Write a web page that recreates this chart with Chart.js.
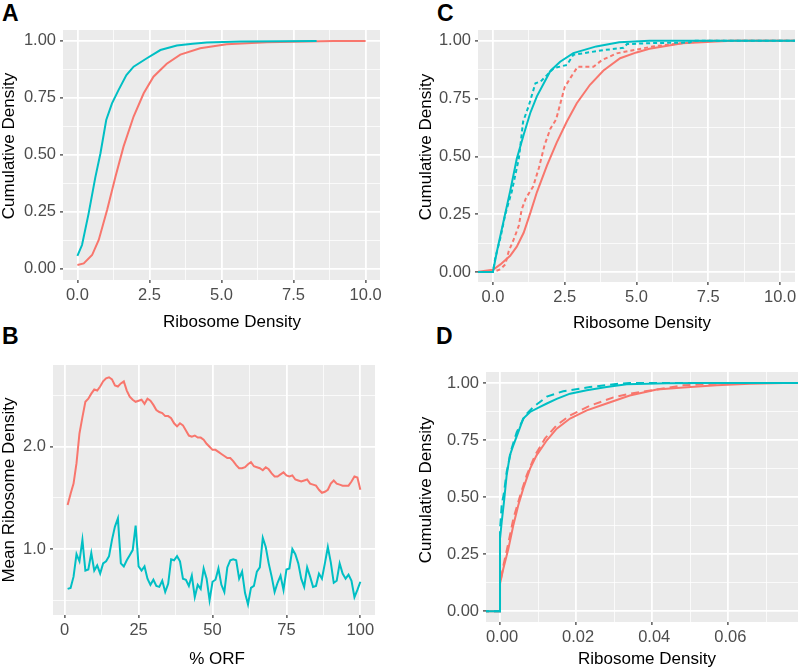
<!DOCTYPE html>
<html>
<head>
<meta charset="utf-8">
<script src="https://cdn.jsdelivr.net/npm/chart.js@4"></script>
<style>
  html, body { margin: 0; padding: 0; background: #fff; width: 800px; height: 669px; overflow: hidden; }
  .panel { position: absolute; }
  .lab { position: absolute; font-family: "Liberation Sans", Arial, sans-serif; font-weight: bold; font-size: 23px; line-height: 23px; color: #000; }
  .ttl { position: absolute; font-family: "Liberation Sans", Arial, sans-serif; font-size: 17px; line-height: 17px; color: #000; white-space: nowrap; transform: translate(-50%, -50%); }
  .ttl.rot { transform: translate(-50%, -50%) rotate(-90deg); }
</style>
</head>
<body>
<div class="lab" style="left:2px;top:2px">A</div>
<div class="lab" style="left:437px;top:2px">C</div>
<div class="lab" style="left:2px;top:325px">B</div>
<div class="lab" style="left:436px;top:325px">D</div>

<canvas id="chartA" class="panel" width="400" height="330" style="left:0;top:0"></canvas>
<canvas id="chartB" class="panel" width="400" height="339" style="left:0;top:330px"></canvas>
<canvas id="chartC" class="panel" width="420" height="330" style="left:400px;top:0"></canvas>
<canvas id="chartD" class="panel" width="420" height="339" style="left:400px;top:330px"></canvas>

<div class="ttl" style="left:232px;top:321px">Ribosome Density</div>
<div class="ttl rot" style="left:8px;top:146px">Cumulative Density</div>
<div class="ttl" style="left:217px;top:658px">% ORF</div>
<div class="ttl rot" style="left:8px;top:490px">Mean Ribosome Density</div>
<div class="ttl" style="left:642px;top:322px">Ribosome Density</div>
<div class="ttl rot" style="left:425px;top:147px">Cumulative Density</div>
<div class="ttl" style="left:647px;top:658px">Ribosome Density</div>
<div class="ttl rot" style="left:425px;top:490px">Cumulative Density</div>

<script>
const RED = '#F8766D';
const TEAL = '#00BFC4';
const FONT = '"Liberation Sans", Arial, sans-serif';

// tick values and labels
const cdfTicks = [0, 0.25, 0.5, 0.75, 1];
const cdfLabels = ['0.00', '0.25', '0.50', '0.75', '1.00'];
const densTicks = [0, 2.5, 5, 7.5, 10];
const densLabels = ['0.0', '2.5', '5.0', '7.5', '10.0'];
const orfTicks = [0, 25, 50, 75, 100];
const orfLabels = ['0', '25', '50', '75', '100'];
const meanTicks = [1, 2];
const meanLabels = ['1.0', '2.0'];
const smallTicks = [0, 0.02, 0.04, 0.06];
const smallLabels = ['0.00', '0.02', '0.04', '0.06'];

// A: cumulative density
const aTealX = [0, 0.16, 0.39, 0.62, 0.8, 1.0, 1.2, 1.43, 1.7, 1.95, 2.41, 2.88, 3.45, 4.0, 4.49, 5.65, 7.0, 8.3];
const aTealY = [0.056, 0.104, 0.243, 0.40, 0.507, 0.653, 0.726, 0.785, 0.85, 0.887, 0.924, 0.96, 0.98, 0.988, 0.993, 0.997, 0.999, 1.0];
const aRedX = [0, 0.22, 0.51, 0.74, 1.03, 1.32, 1.6, 1.95, 2.3, 2.64, 3.1, 3.57, 4.26, 5.18, 6.57, 8.88, 10];
const aRedY = [0.016, 0.023, 0.06, 0.126, 0.258, 0.404, 0.536, 0.668, 0.77, 0.843, 0.90, 0.94, 0.968, 0.985, 0.994, 1.0, 1.0];

// B: mean density along the ORF
const orfPos = [1,2,3,4,5,6,7,8,9,10,11,12,13,14,15,16,17,18,19,20,21,22,23,24,25,26,27,28,29,30,31,32,33,34,35,36,37,38,39,40,41,42,43,44,45,46,47,48,49,50,
  51,52,53,54,55,56,57,58,59,60,61,62,63,64,65,66,67,68,69,70,71,72,73,74,75,76,77,78,79,80,81,82,83,84,85,86,87,88,89,90,91,92,93,94,95,96,97,98,99,100];
const bRed = [1.43,1.54,1.64,1.84,2.13,2.29,2.44,2.47,2.52,2.56, 2.55,2.59,2.64,2.67,2.68,2.66,2.60,2.59,2.62,2.64,
  2.55,2.49,2.46,2.44,2.45,2.46,2.42,2.47,2.45,2.41, 2.36,2.34,2.33,2.30,2.30,2.28,2.23,2.20,2.23,2.21,
  2.16,2.11,2.10,2.11,2.09,2.09,2.07,2.03,2.00,1.97, 1.97,1.95,1.93,1.91,1.89,1.89,1.86,1.82,1.79,1.79,
  1.80,1.83,1.85,1.81,1.80,1.79,1.77,1.80,1.78,1.74, 1.71,1.71,1.73,1.75,1.72,1.71,1.72,1.68,1.67,1.66,
  1.67,1.68,1.64,1.63,1.62,1.58,1.55,1.56,1.58,1.64, 1.67,1.64,1.63,1.62,1.62,1.62,1.66,1.71,1.70,1.58];
const bTeal = [0.61,0.62,0.73,0.95,0.88,1.09,0.79,0.80,0.96,0.79, 0.84,0.76,0.86,0.88,0.93,1.09,1.22,1.30,0.86,0.83,
  0.89,0.94,0.99,1.23,0.83,0.79,0.83,0.71,0.65,0.70, 0.64,0.63,0.69,0.58,0.66,0.90,0.89,0.93,0.88,0.71,
  0.70,0.64,0.74,0.53,0.65,0.61,0.81,0.71,0.50,0.68, 0.70,0.81,0.65,0.58,0.82,0.89,0.90,0.89,0.71,0.78,
  0.57,0.46,0.62,0.64,0.78,0.82,1.11,1.02,0.86,0.73, 0.58,0.67,0.74,0.60,0.80,0.81,1.00,0.95,0.86,0.71,
  0.63,0.82,0.73,0.63,0.64,0.76,0.71,0.86,1.02,0.87, 0.67,0.69,0.86,0.76,0.71,0.75,0.69,0.53,0.60,0.68];

// C: cumulative density, solid and dashed
const cTealX = [-0.6, 0, 0.14, 0.37, 0.6, 0.83, 1.07, 1.3, 1.53, 2.0, 2.34, 2.8, 3.6, 4.4, 5.45, 11];
const cTealY = [0, 0, 0.09, 0.22, 0.35, 0.49, 0.594, 0.688, 0.76, 0.87, 0.91, 0.947, 0.976, 0.994, 1.0, 1.0];
const cTealDashX = [-0.6, 0, 0.08, 0.26, 0.43, 0.66, 0.9, 0.95, 1.05, 1.25, 1.48, 1.66, 1.89, 2.12, 2.58, 2.8, 3.85, 4.55, 4.67, 5.45, 6.85, 6.97, 11];
const cTealDashY = [0, 0, 0.06, 0.148, 0.25, 0.35, 0.49, 0.54, 0.65, 0.72, 0.817, 0.824, 0.853, 0.882, 0.896, 0.94, 0.96, 0.97, 0.986, 0.99, 0.993, 1.0, 1.0];
const cRedX = [-0.6, 0, 0.26, 0.6, 0.83, 1.07, 1.3, 1.53, 1.88, 2.22, 2.57, 2.92, 3.38, 3.85, 4.43, 5.0, 5.45, 6.6, 7.77, 8.35, 11];
const cRedY = [0, 0.01, 0.033, 0.07, 0.11, 0.17, 0.255, 0.345, 0.46, 0.56, 0.65, 0.73, 0.81, 0.872, 0.925, 0.95, 0.966, 0.99, 0.997, 1.0, 1.0];
const cRedDashX = [-0.6, 0, 0.26, 0.43, 0.55, 0.72, 0.9, 1.0, 1.15, 1.4, 1.6, 1.8, 2.0, 2.2, 2.35, 2.5, 2.7, 2.95, 3.5, 3.8, 4.31, 5.24, 5.57, 6.6, 7.42, 11];
const cRedDashY = [0, 0, 0.012, 0.033, 0.09, 0.14, 0.2, 0.27, 0.32, 0.37, 0.45, 0.55, 0.62, 0.66, 0.73, 0.8, 0.84, 0.888, 0.888, 0.917, 0.946, 0.968, 0.976, 0.99, 1.0, 1.0];

// D: cumulative density on a small scale
const dTealX = [-0.005, 0, 0, 0.00044, 0.00105, 0.00175, 0.0026, 0.0035, 0.0048, 0.0061, 0.0079, 0.0105, 0.0123, 0.0149, 0.0184, 0.0228, 0.028, 0.0333, 0.0438, 0.0526, 0.08];
const dTealY = [0, 0, 0.318, 0.39, 0.48, 0.596, 0.683, 0.727, 0.785, 0.844, 0.873, 0.895, 0.91, 0.93, 0.953, 0.968, 0.982, 0.994, 0.999, 1.0, 1.0];
const dTealDashX = [-0.005, 0, 0, 0.00044, 0.00105, 0.00175, 0.003, 0.0044, 0.0066, 0.0088, 0.0123, 0.0166, 0.0236, 0.0315, 0.034, 0.08];
const dTealDashY = [0, 0, 0.36, 0.464, 0.52, 0.61, 0.71, 0.785, 0.858, 0.895, 0.94, 0.964, 0.982, 0.997, 1.0, 1.0];
const dRedX = [-0.005, 0, 0, 0.00088, 0.0022, 0.0035, 0.0048, 0.0061, 0.0079, 0.0096, 0.0123, 0.0149, 0.0184, 0.0228, 0.028, 0.0341, 0.0412, 0.0482, 0.0569, 0.0657, 0.0745, 0.08];
const dRedY = [0, 0, 0.12, 0.187, 0.274, 0.377, 0.464, 0.537, 0.625, 0.683, 0.749, 0.80, 0.844, 0.88, 0.91, 0.945, 0.971, 0.98, 0.99, 0.997, 1.0, 1.0];
const dRedDashX = [-0.005, 0, 0, 0.00088, 0.0022, 0.0035, 0.0053, 0.007, 0.0092, 0.0118, 0.0149, 0.0184, 0.0236, 0.0298, 0.0342, 0.0482, 0.0569, 0.0657, 0.08];
const dRedDashY = [0, 0, 0.12, 0.20, 0.30, 0.405, 0.507, 0.595, 0.683, 0.756, 0.815, 0.858, 0.90, 0.937, 0.953, 0.99, 0.997, 1.0, 1.0];

function pts(xs, ys) {
    return xs.map((x, i) => ({ x: x, y: ys[i] }));
}

function line(xs, ys, color, dash) {
    return {
        data: pts(xs, ys),
        borderColor: color,
        borderWidth: 2,
        borderDash: dash || [],
        pointRadius: 0,
        tension: 0,
        fill: false
    };
}

// major ticks + ggplot-style minor lines halfway between them
function axis(majors, labels, min, max, size, horizontal, labelOffset) {
    const step = majors[1] - majors[0];
    const grid = [];
    for (let k = -4; k <= majors.length * 2 + 4; k++) {
        const v = majors[0] + k * step / 2;
        if (v >= min - 1e-9 && v <= max + 1e-9) grid.push(v);
    }
    const majorIndex = v => majors.findIndex(m => Math.abs(m - v) < step * 1e-3);
    const isMajor = c => c.tick && majorIndex(c.tick.value) >= 0;
    return {
        type: 'linear',
        min: min,
        max: max,
        afterBuildTicks: s => { s.ticks = grid.map(v => ({ value: v })); },
        afterFit: s => { if (horizontal) s.height = size; else s.width = size; },
        ticks: {
            autoSkip: false,
            maxRotation: 0,
            padding: horizontal ? 3 : 4,
            labelOffset: labelOffset || 0,
            color: '#4D4D4D',
            font: { family: FONT, size: 16.5 },
            callback: v => { const i = majorIndex(v); return i < 0 ? '' : labels[i]; }
        },
        grid: {
            color: c => isMajor(c) ? '#FFFFFF' : 'rgba(255,255,255,0.8)',
            lineWidth: c => isMajor(c) ? 1.8 : 0.9,
            tickColor: c => isMajor(c) ? '#333333' : 'rgba(0,0,0,0)',
            tickLength: 3,
            tickWidth: 1.2,
            drawTicks: true
        },
        border: { display: false }
    };
}

const panelBg = {
    id: 'panelBg',
    beforeDraw(chart) {
        const { ctx, chartArea: a } = chart;
        ctx.save();
        ctx.fillStyle = '#EBEBEB';
        ctx.fillRect(a.left, a.top, a.right - a.left, a.bottom - a.top);
        ctx.restore();
    }
};

function makeChart(id, datasets, xAxis, yAxis, padTop, padRight) {
    new Chart(document.getElementById(id), {
        type: 'line',
        data: { datasets: datasets },
        options: {
            responsive: false,
            animation: false,
            devicePixelRatio: 1,
            events: [],
            layout: { padding: { left: 0, top: padTop, right: padRight, bottom: 0 } },
            plugins: { legend: { display: false }, tooltip: { enabled: false } },
            scales: { x: xAxis, y: yAxis }
        },
        plugins: [panelBg]
    });
}

makeChart('chartA',
    [line(aTealX, aTealY, TEAL), line(aRedX, aRedY, RED)],
    axis(densTicks, densLabels, -0.5, 10.5, 50, true),
    axis(cdfTicks, cdfLabels, -0.0496, 1.048, 63, false),
    30, 20);

makeChart('chartB',
    [line(orfPos, bTeal, TEAL), line(orfPos, bRed, RED)],
    axis(orfTicks, orfLabels, -3.95, 104.95, 54, true),
    axis(meanTicks, meanLabels, 0.355, 2.80, 53, false),
    35, 25);

makeChart('chartC',
    [line(cTealX, cTealY, TEAL), line(cTealDashX, cTealDashY, TEAL, [4, 3]),
     line(cRedX, cRedY, RED), line(cRedDashX, cRedDashY, RED, [4, 3])],
    axis(densTicks, densLabels, -0.52, 10.52, 48, true),
    axis(cdfTicks, cdfLabels, -0.043, 1.047, 78, false),
    30, 25);

makeChart('chartD',
    [line(dTealX, dTealY, TEAL), line(dTealDashX, dTealDashY, TEAL, [8, 5]),
     line(dRedX, dRedY, RED), line(dRedDashX, dRedDashY, RED, [8, 5])],
    axis(smallTicks, smallLabels, -0.00368, 0.0783, 47, true, 2),
    axis(cdfTicks, cdfLabels, -0.047, 1.048, 86, false),
    42, 22);
</script>
</body>
</html>
